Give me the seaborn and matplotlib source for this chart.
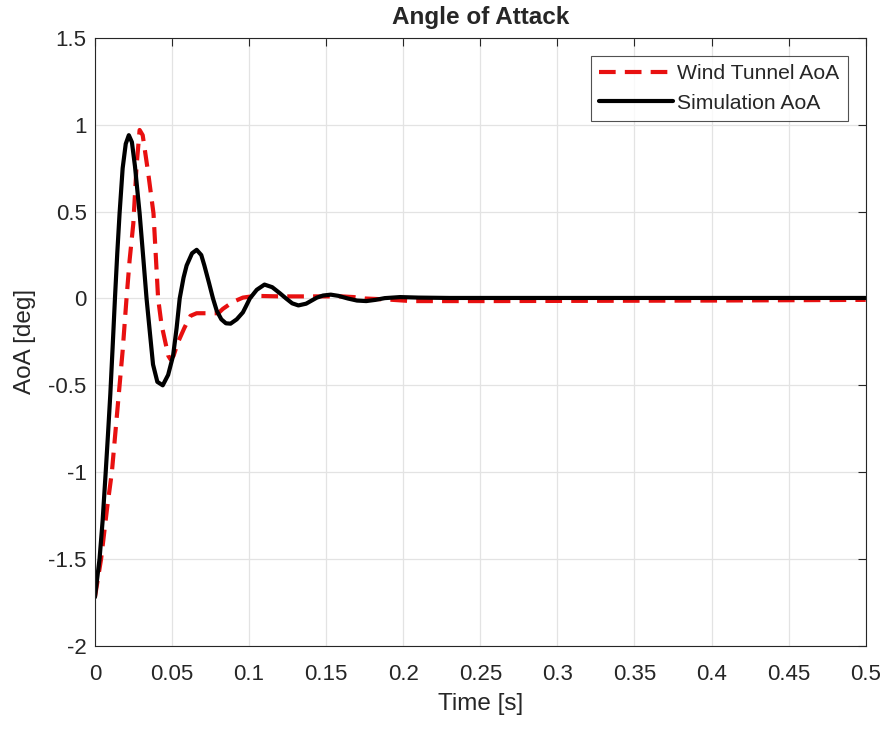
import matplotlib
matplotlib.use("Agg")
import matplotlib.pyplot as plt
import matplotlib.ticker as mticker
import seaborn as sns
import numpy as np

# ---- data ----
sim_t = [0.000, 0.003, 0.005, 0.007, 0.0085, 0.010, 0.0115, 0.013, 0.0145, 0.016, 0.018, 0.020,
         0.022, 0.024, 0.026, 0.029, 0.0315, 0.0335, 0.0357, 0.0377, 0.0405, 0.044, 0.0475,
         0.0507, 0.053, 0.055, 0.0575, 0.0595, 0.063, 0.066, 0.069, 0.071, 0.074, 0.0766,
         0.079, 0.082, 0.085, 0.088, 0.092, 0.096, 0.098, 0.1005, 0.105, 0.110, 0.115, 0.120,
         0.124, 0.128, 0.132, 0.137, 0.144, 0.148, 0.153, 0.158, 0.164, 0.170, 0.176, 0.182,
         0.188, 0.198, 0.210, 0.230, 0.260, 0.300, 0.350, 0.400, 0.450, 0.500]
sim_aoa = [-1.72, -1.50, -1.28, -1.00, -0.78, -0.55, -0.28, 0.00, 0.26, 0.49, 0.75, 0.89,
           0.94, 0.90, 0.76, 0.49, 0.22, 0.00, -0.20, -0.38, -0.48, -0.50, -0.44,
           -0.33, -0.17, 0.00, 0.12, 0.19, 0.26, 0.28, 0.25, 0.19, 0.09, 0.00,
           -0.07, -0.12, -0.143, -0.145, -0.12, -0.08, -0.045, 0.00, 0.05, 0.08, 0.065, 0.03,
           0.00, -0.028, -0.04, -0.03, 0.005, 0.017, 0.022, 0.015, 0.00, -0.012, -0.015, -0.008,
           0.002, 0.008, 0.005, 0.003, 0.003, 0.003, 0.003, 0.003, 0.003, 0.003]

wt_t = [0.000, 0.004, 0.008, 0.011, 0.0135, 0.016, 0.018, 0.0205, 0.0225, 0.0249, 0.027,
        0.029, 0.031, 0.0346, 0.038, 0.041, 0.0432, 0.0476, 0.049, 0.051, 0.054, 0.058,
        0.062, 0.066, 0.072, 0.080, 0.083, 0.0895, 0.096, 0.104, 0.120, 0.140, 0.160,
        0.168, 0.175, 0.190, 0.205, 0.250, 0.300, 0.350, 0.400, 0.450, 0.500]
wt_aoa = [-1.72, -1.50, -1.20, -1.00, -0.75, -0.50, -0.30, 0.00, 0.22, 0.43, 0.76,
          0.97, 0.94, 0.72, 0.49, 0.00, -0.15, -0.33, -0.35, -0.33, -0.25, -0.17,
          -0.10, -0.085, -0.085, -0.085, -0.06, -0.02, 0.005, 0.015, 0.012, 0.012, 0.012,
          0.008, 0.000, -0.006, -0.015, -0.015, -0.014, -0.013, -0.012, -0.010, -0.008]

x_ticks = [0, 0.05, 0.1, 0.15, 0.2, 0.25, 0.3, 0.35, 0.4, 0.45, 0.5]
y_ticks = [-2, -1.5, -1, -0.5, 0, 0.5, 1, 1.5]

sns.set_style("whitegrid")
plt.rcParams['font.family'] = ['Liberation Sans', 'DejaVu Sans']

fig = plt.figure(figsize=(8.87, 7.29), dpi=100)
ax = fig.add_axes([0.107, 0.114, 0.869, 0.834])

sns.lineplot(x=wt_t, y=wt_aoa, ax=ax, color="#e81010", linewidth=3.0,
             label="Wind Tunnel AoA", sort=False)
sns.lineplot(x=sim_t, y=sim_aoa, ax=ax, color="black", linewidth=3.0,
             label="Simulation AoA", sort=False)
ax.lines[0].set_dashes([4.0, 2.2])

ax.set_xlim(0, 0.5)
ax.set_ylim(-2, 1.5)
ax.set_xticks(x_ticks)
ax.set_yticks(y_ticks)
fmt = mticker.FuncFormatter(lambda v, p: f"{v:g}")
ax.xaxis.set_major_formatter(fmt)
ax.yaxis.set_major_formatter(fmt)

ax.grid(True, color="#e3e3e3", linewidth=0.9)
for s in ax.spines.values():
    s.set_color("#262626")
    s.set_linewidth(0.8)
ax.tick_params(direction="in", length=6, width=0.8, colors="#262626",
               top=True, right=True, labelsize=16)
ax.tick_params(axis="x", pad=13)
ax.tick_params(axis="y", pad=6)

ax.set_title("Angle of Attack", fontsize=17.5, fontweight="bold", pad=10)
ax.set_xlabel("Time [s]", fontsize=17.5, color="#262626", labelpad=6)
ax.set_ylabel("AoA [deg]", fontsize=17.5, color="#262626", labelpad=9)

leg = ax.legend(loc="upper right", fontsize=15.2, frameon=True, fancybox=False,
                handlelength=3.5, borderaxespad=0.85, handletextpad=0.2,
                labelspacing=0.5, borderpad=0.4)
leg.get_frame().set_edgecolor("#262626")
leg.get_frame().set_linewidth(0.8)

fig.savefig("out.png", dpi=100, facecolor="white")
